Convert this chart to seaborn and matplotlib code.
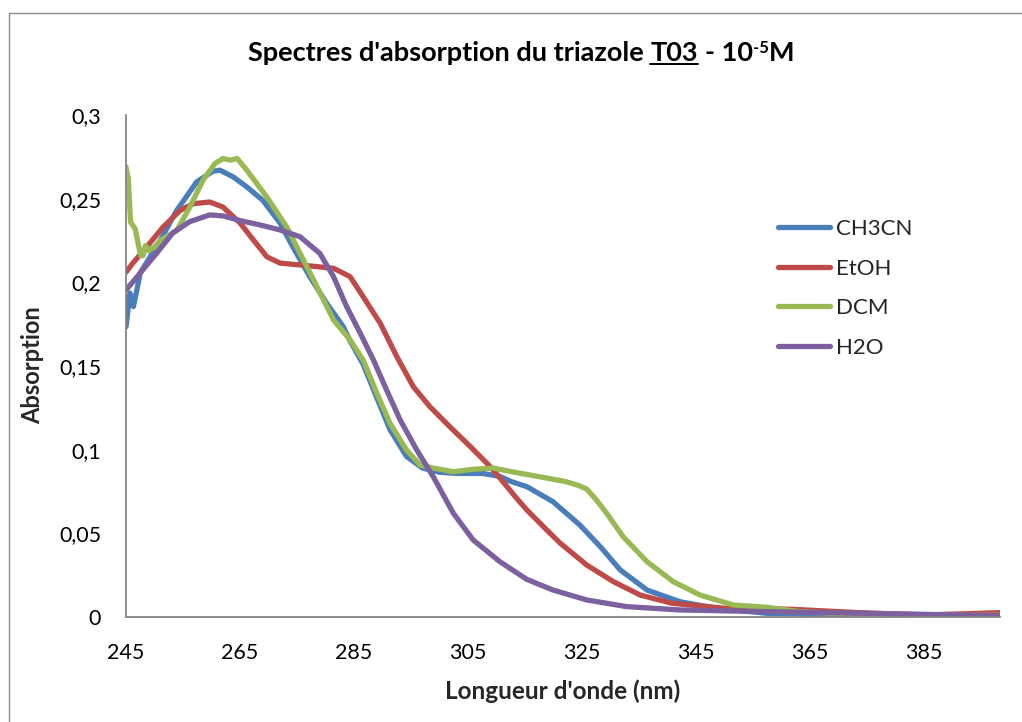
import matplotlib
matplotlib.use("Agg")
import matplotlib.pyplot as plt
import numpy as np
import pandas as pd
import seaborn as sns
from matplotlib.lines import Line2D
from matplotlib.ticker import FixedLocator, FuncFormatter

# --- UV-Vis absorption spectra of triazole T03 (1e-5 M) in four solvents ---
solvents = ["CH3CN", "EtOH", "DCM", "H2O"]

wl_ch3cn = [245.0, 245.7, 246.3, 246.9, 247.5, 248.9, 251.0, 253.9, 257.4, 260.3,
            261.5, 263.8, 266.2, 269.0, 272.0, 274.3, 277.3, 280.2, 283.1, 284.3,
            286.6, 289.0, 291.3, 294.2, 297.0, 300.0, 303.0, 307.6, 310.6, 312.5,
            315.3, 319.9, 324.6, 328.2, 331.7, 336.4, 342.2, 348.6, 357.4, 369.0,
            385.0, 398.3]
abs_ch3cn = [0.1735, 0.1936, 0.1855, 0.1954, 0.2056, 0.2134, 0.225, 0.243, 0.260, 0.2665,
             0.267, 0.263, 0.257, 0.249, 0.2355, 0.221, 0.203, 0.1875, 0.1735, 0.165,
             0.151, 0.131, 0.112, 0.096, 0.089, 0.0865, 0.0858, 0.0858, 0.084, 0.081,
             0.0779, 0.0689, 0.055, 0.042, 0.0281, 0.0161, 0.0091, 0.0052, 0.0022, 0.0012,
             0.0008, 0.0006]

wl_etoh = [245.0, 246.2, 248.6, 251.5, 254.5, 256.8, 259.7, 262.0, 265.0, 267.3,
           269.7, 272.0, 275.5, 281.4, 284.3, 286.6, 289.6, 292.5, 295.4, 298.3,
           301.8, 305.4, 308.9, 310.6, 313.5, 315.3, 318.8, 321.2, 325.8, 330.5,
           335.2, 340.8, 350.1, 361.8, 373.5, 385.2, 398.3]
abs_etoh = [0.206, 0.2115, 0.221, 0.233, 0.243, 0.247, 0.248, 0.245, 0.2355, 0.2255,
            0.2153, 0.2115, 0.2104, 0.2084, 0.2034, 0.1914, 0.1755, 0.1556, 0.1376, 0.1257,
            0.1137, 0.1018, 0.0898, 0.083, 0.071, 0.064, 0.052, 0.044, 0.0311, 0.0211,
            0.0131, 0.0082, 0.0052, 0.0046, 0.0026, 0.0012, 0.0026]

wl_dcm = [245.0, 245.4, 245.8, 246.6, 247.2, 247.6, 248.0, 248.4, 249.0, 250.0,
          251.0, 253.9, 256.2, 258.5, 260.6, 262.0, 263.3, 264.5, 266.2, 269.7,
          273.2, 275.5, 278.5, 281.4, 284.3, 286.6, 289.0, 291.3, 294.2, 296.6,
          298.9, 302.4, 305.9, 309.4, 313.5, 318.8, 322.0, 324.1, 325.8, 327.5,
          329.3, 332.2, 336.4, 341.0, 345.7, 351.5, 357.4, 363.2, 375.0, 398.3]
abs_dcm = [0.269, 0.262, 0.236, 0.232, 0.222, 0.216, 0.216, 0.222, 0.219, 0.221,
           0.225, 0.231, 0.245, 0.261, 0.271, 0.274, 0.273, 0.274, 0.267, 0.251,
           0.233, 0.2175, 0.1974, 0.1775, 0.1656, 0.1536, 0.1337, 0.1158, 0.0998, 0.0908,
           0.089, 0.0868, 0.0883, 0.089, 0.0863, 0.083, 0.081, 0.0789, 0.0765, 0.070,
           0.062, 0.048, 0.033, 0.0211, 0.0131, 0.0072, 0.0058, 0.0032, 0.0012, 0.0010]

wl_h2o = [245.0, 247.5, 250.4, 253.2, 256.2, 259.7, 262.0, 265.0, 268.5, 272.0,
          275.5, 279.0, 281.4, 283.7, 286.1, 288.4, 290.7, 293.1, 296.0, 298.9,
          302.4, 305.9, 310.6, 315.3, 319.9, 325.8, 332.8, 342.2, 357.4, 375.0,
          398.3]
abs_h2o = [0.1954, 0.2056, 0.2175, 0.2295, 0.2363, 0.2403, 0.2397, 0.2369, 0.2343, 0.2313,
           0.2273, 0.2173, 0.2034, 0.1855, 0.1695, 0.1536, 0.1357, 0.1177, 0.0998, 0.0838,
           0.0621, 0.046, 0.033, 0.0225, 0.0161, 0.0102, 0.0062, 0.0042, 0.0032, 0.0022,
           0.0008]

x_ticks = [245, 265, 285, 305, 325, 345, 365, 385]
y_ticks = [0, 0.05, 0.1, 0.15, 0.2, 0.25, 0.3]

colors = {"CH3CN": "#4a7ebb", "EtOH": "#be4b48", "DCM": "#98b954", "H2O": "#7d60a0"}

df = pd.concat([
    pd.DataFrame({"wl": wl_ch3cn, "abs": abs_ch3cn, "solvant": "CH3CN"}),
    pd.DataFrame({"wl": wl_etoh, "abs": abs_etoh, "solvant": "EtOH"}),
    pd.DataFrame({"wl": wl_dcm, "abs": abs_dcm, "solvant": "DCM"}),
    pd.DataFrame({"wl": wl_h2o, "abs": abs_h2o, "solvant": "H2O"}),
], ignore_index=True)

sns.set_theme(style="white")
plt.rcParams["font.family"] = ["Lato", "DejaVu Sans"]

W, H = 1022, 722
fig = plt.figure(figsize=(W / 100, H / 100), dpi=100)
fig.patch.set_facecolor("white")

# plot area in pixel terms
L, R, T, B = 126, 1000, 115, 617
ax = fig.add_axes([L / W, 1 - B / H, (R - L) / W, (B - T) / H])

LW = 3.8
sns.lineplot(data=df, x="wl", y="abs", hue="solvant", hue_order=solvents,
             palette=colors, estimator=None, sort=False, linewidth=LW,
             legend=False, ax=ax)
for ln in ax.get_lines():
    ln.set_solid_capstyle("round")
    ln.set_solid_joinstyle("round")

ax.set_xlim(245, 398.3)
ax.set_ylim(0, 0.3)
ax.xaxis.set_major_locator(FixedLocator(x_ticks))
ax.yaxis.set_major_locator(FixedLocator(y_ticks))
ax.yaxis.set_major_formatter(FuncFormatter(lambda v, p: ("%g" % round(v, 2)).replace(".", ",")))
ax.tick_params(axis="both", length=0, labelsize=15.5, colors="black")
ax.tick_params(axis="x", pad=19)
ax.tick_params(axis="y", pad=18)

for side in ("top", "right"):
    ax.spines[side].set_visible(False)
for side in ("left", "bottom"):
    ax.spines[side].set_color("#868686")
    ax.spines[side].set_linewidth(1.3)
ax.grid(False)

ax.set_xlabel("Longueur d'onde (nm)", fontsize=17.5, fontweight="bold")
ax.set_ylabel("Absorption", fontsize=17, fontweight="bold")
ax.xaxis.label.set_va("center")
ax.yaxis.label.set_va("center")
ax.xaxis.set_label_coords(0.5, (B - 691) / (B - T))
ax.yaxis.set_label_coords((33 - L) / (R - L), (B - 365) / (B - T))

# legend
handles = [Line2D([0], [0], color=colors[s], lw=LW, solid_capstyle="round") for s in solvents]
fs_leg = 16
fs_px = fs_leg * 100 / 72
leg = ax.legend(handles, solvents, loc="upper left", frameon=False,
                fontsize=fs_leg, handlelength=52 / fs_px, handletextpad=6 / fs_px,
                labelspacing=0.88, borderpad=0, borderaxespad=0,
                bbox_to_anchor=((778 - L) / (R - L), (B - 219) / (B - T)))

# title built from runs (underlined "T03", superscript exponent)
TS = 19.5
runs = [
    ("Spectres d'absorption du triazole", TS, 0, False),
    (" ", TS, 0, False),
    ("T03", TS, 0, True),
    (" ", TS, 0, False),
    ("- 10", TS, 0, False),
    ("-5", 12, 8, False),
    ("M", TS, 0, False),
]
fig.canvas.draw()
renderer = fig.canvas.get_renderer()


def text_width(s, size):
    if s.strip() == "":
        a = fig.text(0, 0, "x x", fontsize=size, fontweight="bold")
        b = fig.text(0, 0, "xx", fontsize=size, fontweight="bold")
        w = a.get_window_extent(renderer).width - b.get_window_extent(renderer).width
        a.remove(); b.remove()
        return w
    t = fig.text(0, 0, s, fontsize=size, fontweight="bold")
    w = t.get_window_extent(renderer).width
    t.remove()
    return w


widths = [text_width(s, sz) for s, sz, _, _ in runs]
total = sum(widths)
x0 = 521 - total / 2
baseline = 61
xc = x0
for (s, sz, rise, ul), w in zip(runs, widths):
    if s.strip():
        fig.text(xc / W, 1 - (baseline - rise) / H, s, fontsize=sz, fontweight="bold",
                 ha="left", va="baseline", color="black")
    if ul:
        fig.add_artist(Line2D([xc / W, (xc + w) / W], [1 - (baseline + 3) / H] * 2,
                              color="black", lw=1.4, transform=fig.transFigure))
    xc += w

# chart-area border (left and top edges visible)
border = dict(color="#8c8c8c", lw=1.0, transform=fig.transFigure)
fig.add_artist(Line2D([8.5 / W, 8.5 / W], [1 - 12.5 / H, 0], **border))
fig.add_artist(Line2D([8.5 / W, 1], [1 - 12.5 / H, 1 - 12.5 / H], **border))

fig.savefig("out.png", dpi=100, facecolor="white")
